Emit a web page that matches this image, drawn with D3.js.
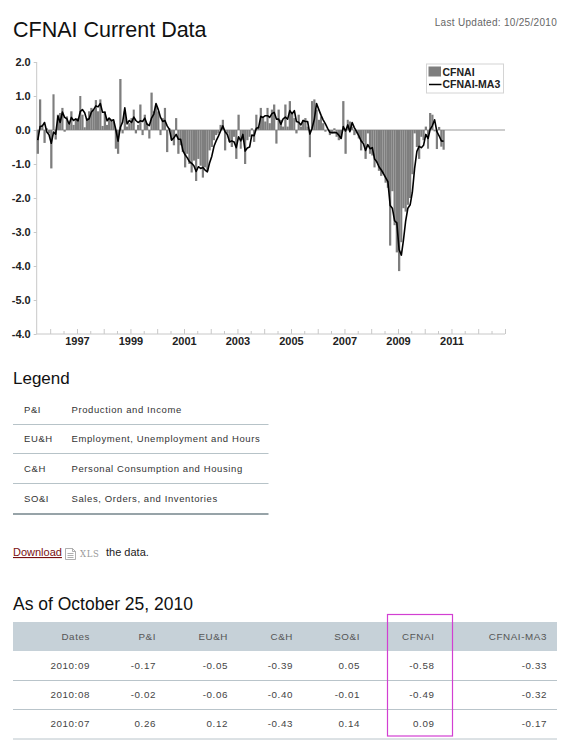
<!DOCTYPE html>
<html lang="en">
<head>
<meta charset="UTF-8">
<title>CFNAI Current Data</title>
<script src="https://d3js.org/d3.v7.min.js"></script>
<style>
  body { margin: 0; background: #fff; }
  svg { display: block; font-family: "Liberation Sans", Arial, sans-serif; }
  .axis .domain, .axis line { stroke: #c8c8c8; }
  .axis text { font-weight: bold; font-size: 11px; fill: #222; }
</style>
</head>
<body>
<svg id="page" width="565" height="740"></svg>
<script>
// monthly CFNAI readings, first month = July 1995, last = September 2010
const startMonth = new Date(1995, 6, 1);
const cfnai = [
  -0.70, 0.90, 0.15, -0.38, 0.05, -0.10, -1.13, 1.05, -0.28, 0.45, 0.50, 0.65,
  -0.05, 0.40, 0.15, 0.55, 0.15, 0.30, 0.35, 1.00, 0.45, 0.08, 0.35, 0.55,
  0.65, 0.60, 0.88, 0.55, 0.90, 0.12, 0.55, 0.15, 0.35, 0.30, 0.25, -0.55,
  -0.70, 1.50, -0.10, 0.55, 0.10, 0.20, 0.35, 0.60, -0.10, 0.15, 0.75, -0.15,
  0.45, 0.20, -0.25, 1.10, 0.55, 0.70, 0.55, -0.15, 0.35, 0.65, -0.65, 0.05,
  -0.30, -0.45, 0.35, -0.70, -0.45, -0.65, -1.10, -0.70, -1.00, -1.25, -0.90, -1.50,
  -0.85, -1.05, -1.40, -1.10, -1.20, -0.60, -0.50, -0.30, -0.15, -0.10, 0.15, 0.30,
  -0.60, -0.10, -0.35, -0.50, -0.20, -0.85, 0.45, -0.55, -0.30, -1.00, -0.30, -0.20,
  0.05, -0.35, 0.45, 0.10, 0.65, 0.35, 0.25, 0.65, 0.20, 0.60, 0.75, -0.40,
  0.60, 0.30, 0.10, 0.75, 0.10, 0.85, 0.50, 0.35, -0.10, 0.45, 0.10, 0.30,
  0.35, 0.10, -0.80, 0.85, 0.90, 0.60, 0.30, 0.40, 0.20, -0.05, 0.00, -0.15,
  -0.10, 0.05, -0.20, -0.30, -0.25, 0.85, -0.70, 0.30, 0.25, 0.10, -0.15, -0.10,
  -0.25, -0.60, -0.35, -0.85, -0.10, -0.70, -0.75, -1.10, -0.95, -1.20, -1.35, -1.30,
  -1.55, -1.70, -3.40, -1.80, -2.80, -3.60, -4.15, -3.30, -2.30, -2.40, -2.20, -2.00,
  -1.30, -0.10, -0.50, -0.85, -0.20, -0.30, 0.10, -0.55, 0.50, 0.45, -0.04, -0.56,
  0.09, -0.49, -0.58
];
const cfnaiMa3 = [
  -0.30, 0.10, 0.12, 0.22, -0.06, -0.14, -0.39, -0.06, -0.12, 0.41, 0.22, 0.53,
  0.37, 0.33, 0.17, 0.37, 0.28, 0.33, 0.27, 0.55, 0.60, 0.51, 0.29, 0.33,
  0.52, 0.60, 0.71, 0.68, 0.78, 0.52, 0.52, 0.27, 0.35, 0.27, 0.30, 0.00,
  -0.33, 0.08, 0.23, 0.65, 0.18, 0.28, 0.22, 0.38, 0.28, 0.22, 0.27, 0.25,
  0.35, 0.17, 0.13, 0.35, 0.47, 0.78, 0.60, 0.37, 0.25, 0.28, 0.12, 0.02,
  -0.30, -0.23, -0.13, -0.27, -0.27, -0.60, -0.73, -0.82, -0.93, -0.98, -1.05, -1.22,
  -1.08, -1.13, -1.10, -1.18, -1.23, -0.97, -0.77, -0.47, -0.32, -0.18, -0.03, 0.12,
  -0.05, -0.13, -0.35, -0.32, -0.35, -0.52, -0.20, -0.32, -0.13, -0.62, -0.53, -0.50,
  -0.15, -0.17, 0.05, 0.07, 0.40, 0.37, 0.42, 0.42, 0.37, 0.48, 0.52, 0.32,
  0.32, 0.17, 0.33, 0.38, 0.32, 0.57, 0.48, 0.57, 0.25, 0.23, 0.15, 0.28,
  0.25, 0.25, -0.12, 0.05, 0.32, 0.78, 0.60, 0.43, 0.30, 0.18, 0.05, -0.07,
  -0.08, -0.07, -0.08, -0.15, -0.25, 0.10, -0.03, 0.15, -0.05, 0.22, 0.07, -0.05,
  -0.17, -0.32, -0.40, -0.60, -0.43, -0.55, -0.52, -0.85, -0.93, -1.08, -1.17, -1.28,
  -1.40, -1.52, -2.22, -2.30, -2.67, -2.73, -3.52, -3.68, -3.25, -2.67, -2.30, -2.20,
  -1.83, -1.13, -0.63, -0.48, -0.52, -0.45, -0.13, -0.25, 0.02, 0.13, 0.30, -0.05,
  -0.17, -0.32, -0.33
];

const yTickValues = [2, 1, 0, -1, -2, -3, -4, -5, -6];
const yTickLabels = ["2.0", "1.0", "0.0", "-1.0", "-2.0", "-3.0", "-4.0", "-5.0", "-4.0"];
const yearLabels = [1997, 1999, 2001, 2003, 2005, 2007, 2009, 2011];

const legendAbbr = ["P&I", "EU&H", "C&H", "SO&I"];
const legendDesc = [
  "Production and Income",
  "Employment, Unemployment and Hours",
  "Personal Consumption and Housing",
  "Sales, Orders, and Inventories"
];

const tableHeaders = ["Dates", "P&I", "EU&H", "C&H", "SO&I", "CFNAI", "CFNAI-MA3"];
const tableDates = ["2010:09", "2010:08", "2010:07"];
const tablePI = ["-0.17", "-0.02", "0.26"];
const tableEUH = ["-0.05", "-0.06", "0.12"];
const tableCH = ["-0.39", "-0.40", "-0.43"];
const tableSOI = ["0.05", "-0.01", "0.14"];
const tableCFNAI = ["-0.58", "-0.49", "0.09"];
const tableMA3 = ["-0.33", "-0.32", "-0.17"];

const svg = d3.select("#page");

// ---- page header
svg.append("text").attr("x", 13).attr("y", 37)
  .attr("font-size", 21.5).attr("fill", "#111")
  .text("CFNAI Current Data");
svg.append("text").attr("x", 557).attr("y", 26)
  .attr("text-anchor", "end").attr("font-size", 10).attr("fill", "#666")
  .attr("letter-spacing", 0.3)
  .text("Last Updated: 10/25/2010");

// ---- chart
const months = cfnai.map((v, i) => d3.timeMonth.offset(startMonth, i));
const x = d3.scaleTime()
  .domain([new Date(1995, 6, 1), new Date(2013, 0, 1)])
  .range([36.7, 505]);
const y = d3.scaleLinear().domain([-6, 2]).range([334, 62]);

const chart = svg.append("g");

chart.append("g")
  .attr("class", "axis")
  .attr("transform", "translate(36.7,0)")
  .call(d3.axisLeft(y).tickValues(yTickValues)
    .tickFormat((d, i) => yTickLabels[i]).tickSize(3).tickPadding(3))
  .call(g => g.select(".domain").attr("d", `M0,${y(2)}V${y(-6)}`));

// half-year ticks pointing up from the bottom axis
const halfYears = d3.timeMonth.every(6).range(new Date(1996, 0, 1), new Date(2013, 1, 1));
chart.append("g")
  .attr("class", "axis")
  .attr("transform", "translate(0,334)")
  .call(d3.axisBottom(x).tickValues(halfYears).tickSize(-4).tickFormat(""))
  .call(g => g.selectAll(".tick line").attr("y2", d => d.getMonth() === 0 ? -5 : -3))
  .call(g => g.select(".domain").attr("d", `M${x.range()[0]},0H${x.range()[1]}`));

chart.append("g")
  .attr("class", "axis")
  .attr("transform", "translate(0,334)")
  .call(d3.axisBottom(x).tickValues(yearLabels.map(yr => new Date(yr, 0, 1)))
    .tickSize(0).tickPadding(3).tickFormat(d3.timeFormat("%Y")))
  .call(g => g.select(".domain").remove());

// zero line
chart.append("line")
  .attr("x1", x.range()[0]).attr("x2", x.range()[1])
  .attr("y1", y(0)).attr("y2", y(0))
  .attr("stroke", "#9a9a9a").attr("stroke-width", 1);

chart.append("g")
  .selectAll("rect")
  .data(cfnai)
  .join("rect")
  .attr("x", (d, i) => x(months[i]))
  .attr("width", (d, i) => x(d3.timeMonth.offset(months[i], 1)) - x(months[i]))
  .attr("y", d => y(Math.max(0, d)))
  .attr("height", d => Math.abs(y(d) - y(0)))
  .attr("fill", "#7e7e7e");

const line = d3.line()
  .x((d, i) => x(months[i]) + 1.1)
  .y(d => y(d));
chart.append("path")
  .datum(cfnaiMa3)
  .attr("d", line)
  .attr("fill", "none")
  .attr("stroke", "#000")
  .attr("stroke-width", 1.6)
  .attr("stroke-linejoin", "round");

// chart legend
const lg = chart.append("g").attr("transform", "translate(426.5,64)");
lg.append("rect").attr("width", 77).attr("height", 29)
  .attr("fill", "#fff").attr("stroke", "#d4d4d4");
lg.append("rect").attr("x", 2).attr("y", 2.5).attr("width", 12.5).attr("height", 10)
  .attr("fill", "#7e7e7e");
lg.append("line").attr("x1", 2.5).attr("x2", 15).attr("y1", 20.5).attr("y2", 20.5)
  .attr("stroke", "#000").attr("stroke-width", 1.5);
lg.selectAll("text.lab")
  .data(["CFNAI", "CFNAI-MA3"])
  .join("text")
  .attr("class", "lab")
  .attr("x", 16).attr("y", (d, i) => 12 + i * 11.5)
  .attr("font-size", 10.5).attr("font-weight", "bold").attr("fill", "#222")
  .text(d => d);

// ---- legend table
svg.append("text").attr("x", 13).attr("y", 384)
  .attr("font-size", 17).attr("fill", "#111").text("Legend");

const legRowY = [412.5, 442, 471.5, 501.5];
const legLineY = [424.5, 453.5, 483.5];
const leg = svg.append("g").attr("font-size", 9.5).attr("fill", "#333")
  .attr("letter-spacing", 0.6);
leg.selectAll("text.abbr").data(legendAbbr).join("text")
  .attr("class", "abbr").attr("x", 24).attr("y", (d, i) => legRowY[i]).text(d => d);
leg.selectAll("text.desc").data(legendDesc).join("text")
  .attr("class", "desc").attr("x", 71.5).attr("y", (d, i) => legRowY[i]).text(d => d);
svg.selectAll("line.legline").data(legLineY).join("line")
  .attr("class", "legline")
  .attr("x1", 13).attr("x2", 268.5).attr("y1", d => d).attr("y2", d => d)
  .attr("stroke", "#b7c3c8");
svg.append("line").attr("x1", 13).attr("x2", 268.5).attr("y1", 514).attr("y2", 514)
  .attr("stroke", "#97a3a8").attr("stroke-width", 2);

// ---- download line
const dl = svg.append("g");
dl.append("text").attr("x", 13).attr("y", 556)
  .attr("font-size", 11).attr("fill", "#7a1010")
  .attr("text-decoration", "underline").text("Download");
dl.append("path")
  .attr("d", "M65.5,548.5h7l3,3v8h-10z M72.5,548.5v3h3 M67.5,553.5h6 M67.5,555.5h6 M67.5,557.5h6")
  .attr("fill", "#fff").attr("stroke", "#9a9a9a").attr("stroke-width", 0.8);
dl.append("text").attr("x", 80).attr("y", 556.5)
  .attr("font-size", 8.5).attr("font-family", "DejaVu Serif, serif")
  .attr("fill", "#999").attr("letter-spacing", 0.6).text("XLS");
dl.append("text").attr("x", 106).attr("y", 556)
  .attr("font-size", 11).attr("fill", "#222").text("the data.");

// ---- data table
svg.append("text").attr("x", 13).attr("y", 610)
  .attr("font-size", 17.5).attr("fill", "#111").text("As of October 25, 2010");

const colRight = [90, 156, 228, 293, 360, 434.5, 547];
const rowY = [668.5, 698, 727];
const rowLines = [680.5, 709.5, 739];
svg.append("rect").attr("x", 13).attr("y", 622).attr("width", 544).attr("height", 29)
  .attr("fill", "#c6d1d8");
svg.selectAll("line.rowline").data(rowLines).join("line")
  .attr("class", "rowline")
  .attr("x1", 13).attr("x2", 557).attr("y1", d => d).attr("y2", d => d)
  .attr("stroke", "#b9c4ca");

const tbl = svg.append("g").attr("font-size", 9.8).attr("letter-spacing", 0.6)
  .attr("text-anchor", "end");
tbl.selectAll("text.head").data(tableHeaders).join("text")
  .attr("class", "head").attr("x", (d, i) => colRight[i]).attr("y", 640)
  .attr("fill", "#555").text(d => d);

const columns = [tableDates, tablePI, tableEUH, tableCH, tableSOI, tableCFNAI, tableMA3];
columns.forEach((col, c) => {
  tbl.selectAll(`text.c${c}`).data(col).join("text")
    .attr("class", `c${c}`)
    .attr("x", colRight[c]).attr("y", (d, r) => rowY[r])
    .attr("fill", "#444").text(d => d);
});

// highlight box round the CFNAI column
svg.append("rect").attr("x", 387.5).attr("y", 614.5).attr("width", 65).attr("height", 121.5)
  .attr("fill", "none").attr("stroke", "#d23fd2").attr("stroke-width", 1.2);
</script>
</body>
</html>
